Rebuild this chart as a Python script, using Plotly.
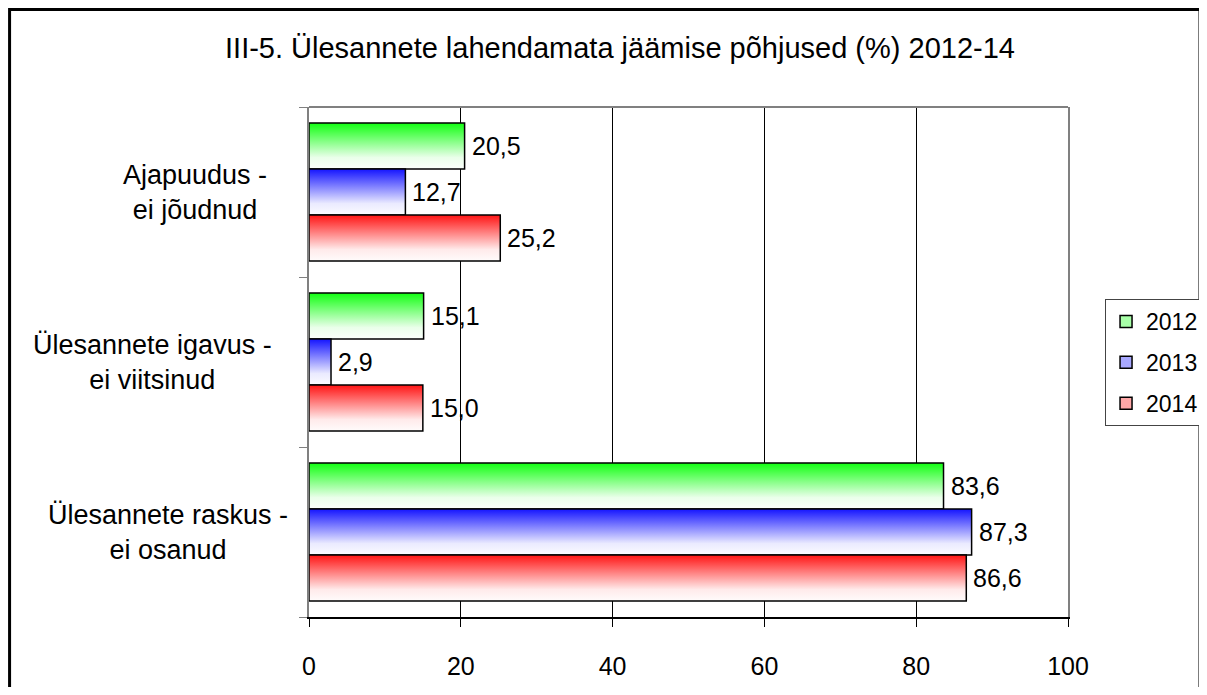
import plotly.graph_objects as go

# data, categories listed top to bottom as in the chart
categories = ["Ajapuudus -<br>ei jõudnud",
              "Ülesannete igavus -<br>ei viitsinud",
              "Ülesannete raskus -<br>ei osanud"]
years = ["2012", "2013", "2014"]
values_2012 = [20.5, 15.1, 83.6]
values_2013 = [12.7, 2.9, 87.3]
values_2014 = [25.2, 15.0, 86.6]
x_ticks = [0, 20, 40, 60, 80, 100]

series = [values_2012, values_2013, values_2014]
top_colors = ["#12ff12", "#1414ff", "#ff1414"]
light_colors = ["#eaffea", "#eaeaff", "#ffeaea"]
bottom_colors = ["#fbfffb", "#fbfbff", "#fffbfb"]
legend_colors = ["#a8ffa8", "#a8a8ff", "#ffa8a8"]
font = "Liberation Sans, Arial, sans-serif"

bar_h = 0.2706          # height of one bar in category units
n = len(categories)

fig = go.Figure()

for j, (year, vals) in enumerate(zip(years, series)):
    offset = (1 - j) * bar_h
    scale = [[0, bottom_colors[j]], [0.25, light_colors[j]], [1, top_colors[j]]]
    for i, v in enumerate(vals):
        yc = (n - 1 - i) + offset
        y0, y1 = yc - bar_h / 2, yc + bar_h / 2
        fig.add_trace(go.Scatter(
            x=[0, v, v, 0, 0], y=[y0, y0, y1, y1, y0],
            mode="lines", fill="toself",
            fillgradient=dict(type="vertical", colorscale=scale),
            line=dict(color="black", width=1.5),
            showlegend=False, hoverinfo="skip"))
        fig.add_annotation(x=v, y=yc, xref="x", yref="y",
                           text=f"{v:.1f}".replace(".", ","),
                           showarrow=False, xanchor="left", xshift=5,
                           font=dict(size=25, color="black", family=font))
    # legend entry
    fig.add_trace(go.Bar(x=[None], y=[None], orientation="h", name=year,
                         legendgroup=year,
                         marker=dict(color=legend_colors[j],
                                     line=dict(color="black", width=1.5))))

# category labels, centred lines like the original
label_shift = [-114, -157, -141]
for i, cat in enumerate(categories):
    fig.add_annotation(x=0, xref="paper", y=n - 1 - i, yref="y",
                       text=cat, showarrow=False, xanchor="center",
                       xshift=label_shift[i], align="center",
                       font=dict(size=27, color="black", family=font))

W, H = 1199, 679
fig.update_layout(
    width=W, height=H,
    margin=dict(l=301, r=139, t=99, b=70, autoexpand=False),
    paper_bgcolor="white", plot_bgcolor="white",
    font=dict(family=font, size=25, color="black"),
    title=dict(text="III-5. Ülesannete lahendamata jäämise põhjused (%) 2012-14",
               x=612 / W, xref="container", xanchor="center",
               y=1 - 40 / H, yanchor="middle",
               font=dict(size=29, family=font, color="black")),
    showlegend=True,
    legend=dict(x=1.0488, y=0.6235, xanchor="left", yanchor="top",
                bordercolor="#444", borderwidth=1, bgcolor="white",
                font=dict(size=23, family=font), traceorder="grouped",
                tracegroupgap=8),
    xaxis=dict(range=[0, 100], tickvals=x_ticks, ticks="outside", ticklen=8,
               tickcolor="black", showgrid=True, gridcolor="black", gridwidth=1,
               showline=True, linecolor="black", linewidth=2, zeroline=False,
               ticklabelstandoff=18, tickfont=dict(size=25)),
    yaxis=dict(range=[-0.5, 2.5], tickvals=[-0.5, 0.5, 1.5, 2.5],
               ticktext=["", "", "", ""], ticks="outside", ticklen=8,
               tickcolor="#808080", showgrid=False, zeroline=False,
               showline=True, linecolor="#808080", linewidth=2, mirror=True),
    shapes=[
        dict(type="line", xref="paper", yref="paper", x0=0, x1=1, y0=1, y1=1,
             line=dict(color="#808080", width=2)),
        dict(type="rect", xref="paper", yref="paper",
             x0=-0.3945, x1=1.1739, y0=-0.2, y1=1.191,
             line=dict(color="black", width=3), layer="below"),
    ],
)

fig.write_html("out.html")
